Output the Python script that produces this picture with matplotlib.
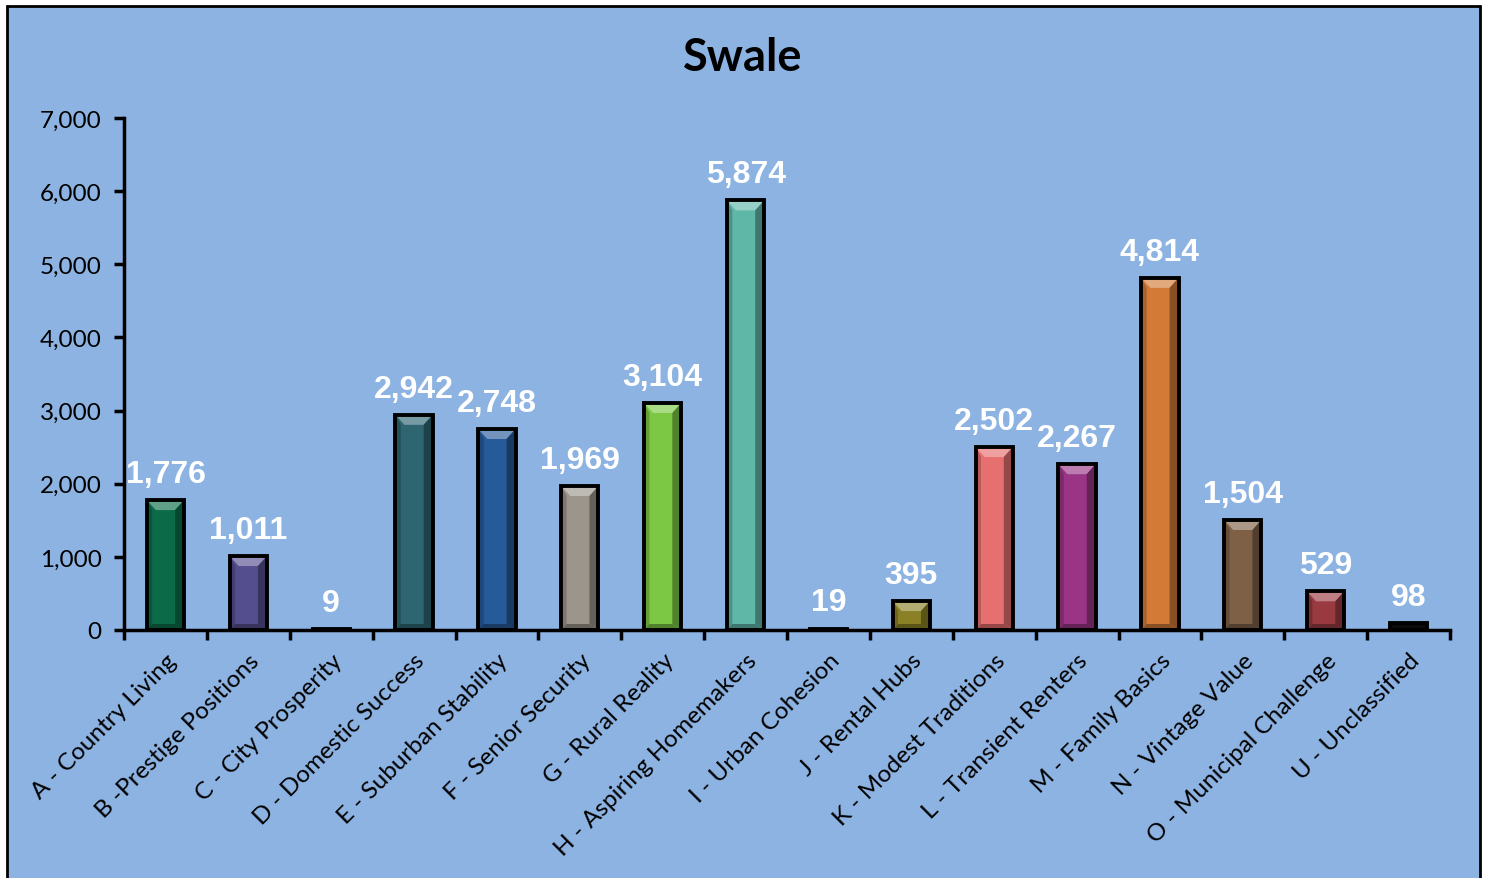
import matplotlib
matplotlib.use("Agg")
import matplotlib.pyplot as plt
from matplotlib.patches import Rectangle, Polygon
from matplotlib.ticker import FuncFormatter, MultipleLocator
import matplotlib.colors as mcolors
import numpy as np

title = "Swale"
categories = ["A - Country Living", "B -Prestige Positions", "C - City Prosperity",
              "D - Domestic Success", "E - Suburban Stability", "F - Senior Security",
              "G - Rural Reality", "H - Aspiring Homemakers", "I - Urban Cohesion",
              "J - Rental Hubs", "K - Modest Traditions", "L - Transient Renters",
              "M - Family Basics", "N - Vintage Value", "O - Municipal Challenge",
              "U - Unclassified"]
values = [1776, 1011, 9, 2942, 2748, 1969, 3104, 5874, 19, 395, 2502, 2267, 4814, 1504, 529, 98]
colors = ["#0B6B48", "#554E8E", "#3A6A8A", "#2E6570", "#275A98", "#9B958B",
          "#7CC743", "#5FB7A7", "#111111", "#8A8127", "#E66F6F", "#9A3585",
          "#D37A37", "#7E6047", "#993A41", "#0A0A0A"]

W, H = 1486, 879
fig = plt.figure(figsize=(W / 100, H / 100), dpi=100)
fig.patch.set_facecolor("white")
bg = "#8DB3E2"
fig.patches.append(Rectangle((7 / W, -0.05), (1480 - 7) / W, 1.05 - 7 / H,
                             transform=fig.transFigure, facecolor=bg,
                             edgecolor="black", linewidth=2, zorder=-5))

ax_l, ax_r, ax_t, ax_b = 124, 1450, 119, 631
ax = fig.add_axes([ax_l / W, 1 - ax_b / H, (ax_r - ax_l) / W, (ax_b - ax_t) / H])
ax.set_zorder(2)
ax.patch.set_alpha(0)
ymax = 7000
n = len(categories)
x = np.arange(n)
ax.set_xlim(-0.5, n - 0.5)
ax.set_ylim(0, ymax)

bw = 0.45
bars = ax.bar(x, values, width=bw, color=colors, edgecolor="none", zorder=2)

# bevel effect derived from each bar's geometry
px_x = n / (ax_r - ax_l)
px_y = ymax / (ax_b - ax_t)
bev_x, bev_y = 9 * px_x, 10 * px_y
for b, c in zip(bars, colors):
    x0, y0, w, h = b.get_x(), b.get_y(), b.get_width(), b.get_height()
    rgb = np.array(mcolors.to_rgb(c))
    light = tuple(rgb + (1 - rgb) * 0.35)
    dark = tuple(rgb * 0.65)
    darker = tuple(rgb * 0.8)
    if h > 2.5 * bev_y:
        x1, y1 = x0 + w, y0 + h
        ax.add_patch(Polygon([(x0, y1), (x1, y1), (x1 - bev_x, y1 - bev_y), (x0 + bev_x, y1 - bev_y)],
                             closed=True, facecolor=light, edgecolor="none", zorder=3))
        ax.add_patch(Polygon([(x1, y1), (x1, y0), (x1 - bev_x, y0 + bev_y * 0.6), (x1 - bev_x, y1 - bev_y)],
                             closed=True, facecolor=dark, edgecolor="none", zorder=3))
        ax.add_patch(Polygon([(x0, y1), (x0, y0), (x0 + bev_x * 0.6, y0 + bev_y * 0.6), (x0 + bev_x * 0.6, y1 - bev_y)],
                             closed=True, facecolor=darker, edgecolor="none", zorder=3))
        ax.add_patch(Polygon([(x0, y0), (x1, y0), (x1 - bev_x, y0 + bev_y * 0.6), (x0 + bev_x * 0.6, y0 + bev_y * 0.6)],
                             closed=True, facecolor=dark, edgecolor="none", zorder=3))
ax.bar(x, values, width=bw, color="none", edgecolor="black", linewidth=2.8, zorder=4)

for xi, v in zip(x, values):
    ax.annotate(f"{v:,}", (xi, v), xytext=(0, 8), textcoords="offset points",
                ha="center", va="bottom", color="white", fontsize=23,
                fontweight="bold", family="Liberation Sans", zorder=5)

for s in ["top", "right"]:
    ax.spines[s].set_visible(False)
for s in ["left", "bottom"]:
    ax.spines[s].set_linewidth(2.5)
    ax.spines[s].set_color("black")
ax.spines["bottom"].set_zorder(6)

ax.yaxis.set_major_locator(MultipleLocator(1000))
ax.yaxis.set_major_formatter(FuncFormatter(lambda v, p: f"{int(v):,}"))
ax.tick_params(axis="y", direction="out", length=7, width=2.5, labelsize=17.5, pad=9)
for lab in ax.get_yticklabels():
    lab.set_family("Lato")

ax.set_xticks(x)
ax.set_xticklabels(categories, rotation=45, ha="right", rotation_mode="anchor",
                   fontsize=17.5, family="Lato")
ax.set_xticks(np.arange(-0.5, n, 1), minor=True)
ax.tick_params(axis="x", which="major", length=0, pad=14)
ax.tick_params(axis="x", which="minor", direction="out", length=7, width=2.5)

fig.text(743 / W, 1 - 58 / H, title, ha="center", va="center", fontsize=32.5,
         fontweight="bold", family="Lato")

fig.savefig("out.png", dpi=100)
